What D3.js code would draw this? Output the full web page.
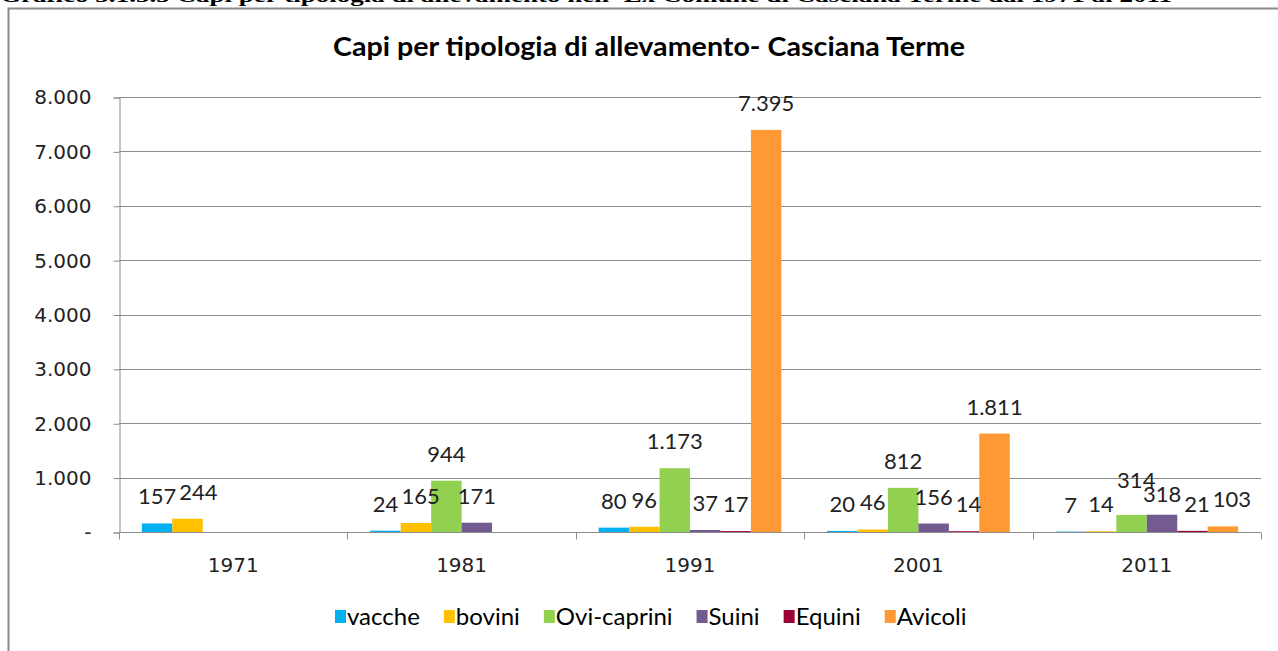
<!DOCTYPE html>
<html>
<head>
<meta charset="utf-8">
<script src="https://cdn.jsdelivr.net/npm/d3@7"></script>
<style>
  html, body { margin: 0; padding: 0; background: #fff; }
  svg { display: block; }
</style>
</head>
<body>
<svg id="chart" width="1278" height="651"></svg>
<script>
// Census years (categories)
const years = ["1971", "1981", "1991", "2001", "2011"];

// Livestock types (series)
const seriesNames = ["vacche", "bovini", "Ovi-caprini", "Suini", "Equini", "Avicoli"];
const seriesColors = ["#00B0F0", "#FFC000", "#92D050", "#735A91", "#9B0036", "#FF9933"];

// Head counts per series, one value per year (null = no data)
const vacche     = [157, 24, 80, 20, 7];
const bovini     = [244, 165, 96, 46, 14];
const oviCaprini = [null, 944, 1173, 812, 314];
const suini      = [null, 171, 37, 156, 318];
const equini     = [null, null, 17, 14, 21];
const avicoli    = [null, null, 7395, 1811, 103];
const seriesValues = [vacche, bovini, oviCaprini, suini, equini, avicoli];

// Y axis ticks
const yTicks = [0, 1000, 2000, 3000, 4000, 5000, 6000, 7000, 8000];

const pageTitle = "Grafico 3.1.3.5 Capi per tipologia di allevamento nell' Ex Comune di Casciana Terme dal 1971 al 2011";
const chartTitle = "Capi per tipologia di allevamento- Casciana Terme";

// Italian number format: thousands separated by "."
const itFmt = d3.formatLocale({ decimal: ",", thousands: ".", grouping: [3], currency: ["€", ""] }).format(",d");
const tickFmt = v => v === 0 ? "-" : itFmt(v);

const svg = d3.select("#chart");
const W = 1278, H = 651;
const plot = { left: 119, right: 1261, top: 97, bottom: 532 };

// Document caption, cut off by the top of the page
svg.append("text")
  .attr("x", 0).attr("y", 2)
  .attr("font-family", "Liberation Serif, serif")
  .attr("font-weight", "bold")
  .attr("font-size", 19)
  .attr("textLength", 1172)
  .attr("lengthAdjust", "spacingAndGlyphs")
  .attr("fill", "#000")
  .text(pageTitle);

// Chart frame (left and top edges)
svg.append("path")
  .attr("d", `M8.5,${H} L8.5,8.5 L${W},8.5`)
  .attr("fill", "none")
  .attr("stroke", "#8a8a8a")
  .attr("stroke-width", 2);

// Chart title
svg.append("text")
  .attr("x", 333).attr("y", 56)
  .attr("font-family", "Lato, sans-serif")
  .attr("font-weight", "bold")
  .attr("font-size", 27)
  .attr("textLength", 632)
  .attr("lengthAdjust", "spacingAndGlyphs")
  .attr("fill", "#000")
  .text(chartTitle);

// Scales
const x0 = d3.scaleBand().domain(years).range([plot.left, plot.right]).paddingInner(0).paddingOuter(0);
const bw = x0.bandwidth() / (seriesNames.length + 1.5);
const groupPad = bw * 0.75;
const x1 = d3.scaleBand().domain(seriesNames).range([groupPad, x0.bandwidth() - groupPad]).padding(0);
const y = d3.scaleLinear().domain([0, 8000]).range([plot.bottom, plot.top]);

// Gridlines
svg.append("g")
  .selectAll("line")
  .data(yTicks)
  .join("line")
  .attr("x1", plot.left).attr("x2", plot.right)
  .attr("y1", d => Math.round(y(d)) + 0.5).attr("y2", d => Math.round(y(d)) + 0.5)
  .attr("stroke", "#8c8c8c")
  .attr("stroke-width", 1);

// Y axis
const yAxis = svg.append("g")
  .attr("transform", `translate(${plot.left + 0.5},0.5)`)
  .call(d3.axisLeft(y).tickValues(yTicks).tickFormat(tickFmt).tickSize(6).tickPadding(22));
yAxis.select(".domain").attr("stroke", "#8c8c8c");
yAxis.selectAll(".tick line").attr("stroke", "#8c8c8c");
yAxis.selectAll(".tick text")
  .attr("font-family", "DejaVu Sans, sans-serif")
  .attr("font-size", 20)
  .attr("fill", "#222");

// X axis: baseline with ticks at category boundaries
const xg = svg.append("g").attr("transform", `translate(0,${Math.round(y(0)) + 0.5})`);
xg.append("line")
  .attr("x1", plot.left).attr("x2", plot.right)
  .attr("stroke", "#8c8c8c");
const boundaries = years.map(d => x0(d)).concat([x0(years[years.length - 1]) + x0.bandwidth()]);
xg.selectAll("line.tk")
  .data(boundaries)
  .join("line")
  .attr("class", "tk")
  .attr("x1", d => Math.round(d) + 0.5).attr("x2", d => Math.round(d) + 0.5)
  .attr("y1", 0).attr("y2", 7)
  .attr("stroke", "#8c8c8c");
xg.selectAll("text")
  .data(years)
  .join("text")
  .attr("x", d => x0(d) + x0.bandwidth() / 2)
  .attr("y", 39)
  .attr("text-anchor", "middle")
  .attr("font-family", "DejaVu Sans, sans-serif")
  .attr("font-size", 20)
  .attr("fill", "#222")
  .text(d => d);

// Bars and value labels
const cells = [];
seriesNames.forEach((s, si) => {
  years.forEach((yr, yi) => {
    const v = seriesValues[si][yi];
    if (v != null) cells.push({ s, si, yr, yi, v });
  });
});

const barsG = svg.append("g");
barsG.selectAll("rect")
  .data(cells)
  .join("rect")
  .attr("x", d => x0(d.yr) + x1(d.s))
  .attr("width", x1.bandwidth())
  .attr("y", d => y(d.v))
  .attr("height", d => y(0) - y(d.v))
  .attr("fill", d => seriesColors[d.si]);

const labels = barsG.selectAll("text")
  .data(cells)
  .join("text")
  .attr("x", d => x0(d.yr) + x1(d.s) + x1.bandwidth() / 2)
  .attr("y", d => y(d.v) - 19)
  .attr("text-anchor", "middle")
  .attr("font-family", "Lato, sans-serif")
  .attr("font-size", 22)
  .attr("fill", "#222")
  .text(d => itFmt(d.v));

// Resolve collisions between neighbouring labels of a year group:
// a label sitting higher or barely touching is slid right; labels at the
// same height that overlap a lot are split vertically.
years.forEach((yr, yi) => {
  const grp = labels.filter(d => d.yi === yi).nodes()
    .sort((a, b) => d3.select(a).datum().si - d3.select(b).datum().si);
  for (let i = 0; i < grp.length - 1; i++) {
    const a = grp[i], c = grp[i + 1];
    const ba = a.getBBox(), bc = c.getBBox();
    const overlap = (ba.x + ba.width) - bc.x;
    const dy = Math.abs(ba.y - bc.y);
    if (dy > ba.height * 0.8) continue;
    if (overlap > 6 && dy < 3) {
      d3.select(a).attr("y", +d3.select(a).attr("y") - 8);
      d3.select(c).attr("y", +d3.select(c).attr("y") + 6);
    } else if (overlap > -2) {
      d3.select(c).attr("x", +d3.select(c).attr("x") + overlap + 3);
    }
  }
});

// Legend
const legend = svg.append("g").attr("transform", "translate(0,617)");
const items = legend.selectAll("g")
  .data(seriesNames)
  .join("g");
items.append("rect")
  .attr("width", 11).attr("height", 13)
  .attr("y", -7)
  .attr("fill", (d, i) => seriesColors[i]);
items.append("text")
  .attr("x", 12)
  .attr("y", 8)
  .attr("font-family", "Lato, sans-serif")
  .attr("font-size", 24)
  .attr("fill", "#000")
  .text(d => d);
let lx = 335;
items.each(function () {
  const g = d3.select(this);
  g.attr("transform", `translate(${lx},0)`);
  const w = g.select("text").node().getComputedTextLength();
  lx += 12 + w + 24;
});
</script>
</body>
</html>
